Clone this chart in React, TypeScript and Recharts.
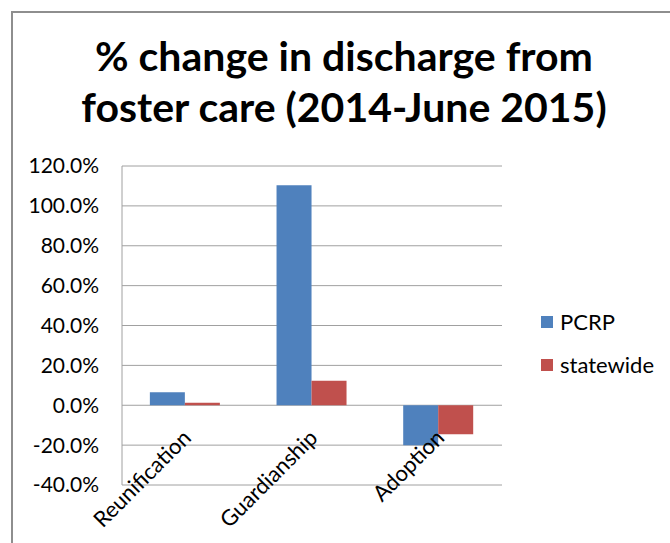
import React from 'react';
import { BarChart, Bar, XAxis, YAxis, CartesianGrid, Legend } from 'recharts';

const categories = ['Reunification', 'Guardianship', 'Adoption'];
const pcrpValues = [6.5, 110.3, -20.0];
const statewideValues = [1.2, 12.3, -14.5];
const yTicks = [-40, -20, 0, 20, 40, 60, 80, 100, 120];
const seriesNames = ['PCRP', 'statewide'];
const titleLines = ['% change in discharge from', 'foster care (2014-June 2015)'];

const data = categories.map((c, i) => ({
  name: c,
  pcrp: pcrpValues[i],
  statewide: statewideValues[i],
}));

const W = 670;
const H = 543;
const PLOT_TOP = 166;
const PLOT_BOTTOM = 485;
const PLOT_LEFT = 122;
const PLOT_RIGHT = 502;
const Y_MIN = yTicks[0];
const Y_MAX = yTicks[yTicks.length - 1];
const ZERO_Y = PLOT_TOP + (Y_MAX / (Y_MAX - Y_MIN)) * (PLOT_BOTTOM - PLOT_TOP);
const FONT = 'Lato, "Open Sans", sans-serif';

const XTick = (props: any) => {
  const { x, payload } = props;
  const tx = x + 7;
  const ty = ZERO_Y + 34;
  return (
    <text
      x={tx}
      y={ty}
      transform={`rotate(-45, ${tx}, ${ty})`}
      textAnchor="end"
      fontSize={22}
      fill="#000"
      fontFamily={FONT}
    >
      {payload.value}
    </text>
  );
};

const LegendContent = (props: any) => {
  const { payload } = props;
  return (
    <div style={{ fontFamily: FONT }}>
      {(payload || []).map((p: any) => (
        <div key={p.value} style={{ display: 'flex', alignItems: 'center', height: 43 }}>
          <div style={{ width: 12, height: 12, background: p.color, marginRight: 7 }} />
          <span style={{ fontSize: 22, color: '#000' }}>{p.value}</span>
        </div>
      ))}
    </div>
  );
};

export default function App() {
  return (
    <div
      style={{
        position: 'absolute',
        left: 0,
        top: 0,
        width: W,
        height: H,
        background: '#fff',
        overflow: 'hidden',
        fontFamily: FONT,
      }}
    >
      <div
        style={{
          position: 'absolute',
          left: 11,
          top: 11,
          width: W,
          height: H,
          borderTop: '2px solid #8e8e8e',
          borderLeft: '2px solid #8e8e8e',
        }}
      />
      <div
        style={{
          position: 'absolute',
          left: 10,
          top: 30,
          width: 668,
          textAlign: 'center',
          fontSize: 41,
          fontWeight: 700,
          lineHeight: '51px',
          color: '#000',
        }}
      >
        {titleLines.map((t) => (
          <div key={t}>{t}</div>
        ))}
      </div>
      <div style={{ position: 'absolute', left: 0, top: 0 }}>
        <BarChart
          width={W}
          height={H}
          data={data}
          margin={{ top: PLOT_TOP, right: W - PLOT_RIGHT, bottom: 0, left: PLOT_LEFT - 110 }}
          barCategoryGap="22%"
          barGap={0}
        >
          <CartesianGrid vertical={false} stroke="#a0a0a0" strokeWidth={1} />
          <YAxis
            width={110}
            domain={[Y_MIN, Y_MAX]}
            ticks={yTicks}
            interval={0}
            tickFormatter={(v: number) => `${v.toFixed(1)}%`}
            axisLine={{ stroke: '#a0a0a0' }}
            tickLine={false}
            tickSize={0}
            tickMargin={23}
            tick={{ fontSize: 21, fill: '#000', fontFamily: FONT }}
          />
          <Bar dataKey="pcrp" name={seriesNames[0]} fill="#4F81BD" isAnimationActive={false} />
          <Bar dataKey="statewide" name={seriesNames[1]} fill="#C0504D" isAnimationActive={false} />
          <XAxis
            dataKey="name"
            height={H - PLOT_BOTTOM}
            axisLine={false}
            tickLine={false}
            tickSize={0}
            interval={0}
            tick={<XTick />}
          />
          <Legend
            layout="horizontal"
            align="center"
            verticalAlign="middle"
            wrapperStyle={{ left: 541, top: 300, width: 130 }}
            content={<LegendContent />}
          />
        </BarChart>
      </div>
    </div>
  );
}
